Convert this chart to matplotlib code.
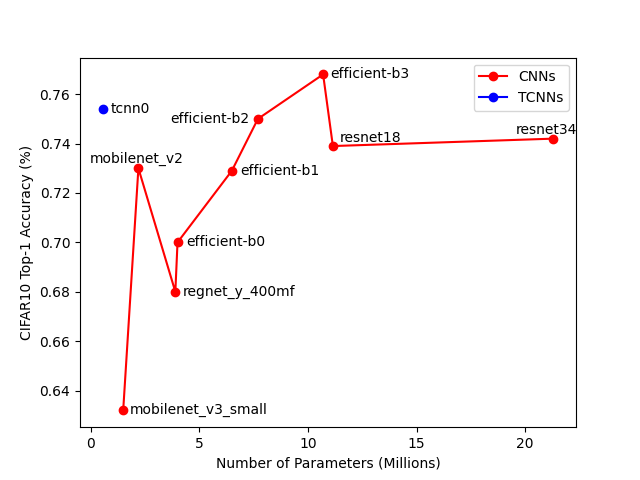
import matplotlib
matplotlib.use('Agg')
import matplotlib.pyplot as plt

# CNN models (sorted by parameter count)
cnn_names = ['mobilenet_v3_small', 'mobilenet_v2', 'regnet_y_400mf', 'efficient-b0',
             'efficient-b1', 'efficient-b2', 'efficient-b3', 'resnet18', 'resnet34']
cnn_params = [1.5, 2.2, 3.9, 4.0, 6.5, 7.7, 10.7, 11.15, 21.3]
cnn_acc = [0.632, 0.730, 0.680, 0.700, 0.729, 0.750, 0.768, 0.739, 0.742]

tcnn_names = ['tcnn0']
tcnn_params = [0.55]
tcnn_acc = [0.754]

# label placement (offset in points, ha, va)
label_pos = {
    'mobilenet_v3_small': ((5, 0), 'left', 'center'),
    'mobilenet_v2': ((-1, 2), 'center', 'bottom'),
    'regnet_y_400mf': ((5, 0), 'left', 'center'),
    'efficient-b0': ((6, 0), 'left', 'center'),
    'efficient-b1': ((6, 0), 'left', 'center'),
    'efficient-b2': ((-6, 0), 'right', 'center'),
    'efficient-b3': ((5, 0), 'left', 'center'),
    'resnet18': ((5, 1), 'left', 'bottom'),
    'resnet34': ((-5, 1.5), 'center', 'bottom'),
    'tcnn0': ((6, 0), 'left', 'center'),
}

fig, ax = plt.subplots(figsize=(6.4, 4.8), dpi=100)
ax.plot(cnn_params, cnn_acc, 'o-', color='red', label='CNNs')
ax.plot(tcnn_params, tcnn_acc, 'o-', color='blue', label='TCNNs')

for n, x, y in zip(cnn_names + tcnn_names, cnn_params + tcnn_params, cnn_acc + tcnn_acc):
    off, ha, va = label_pos[n]
    ax.annotate(n, (x, y), xytext=off, textcoords='offset points', ha=ha, va=va)

ax.set_xlabel('Number of Parameters (Millions)')
ax.set_ylabel('CIFAR10 Top-1 Accuracy (%)')
ax.legend(loc='upper right')

fig.savefig('out.png')
